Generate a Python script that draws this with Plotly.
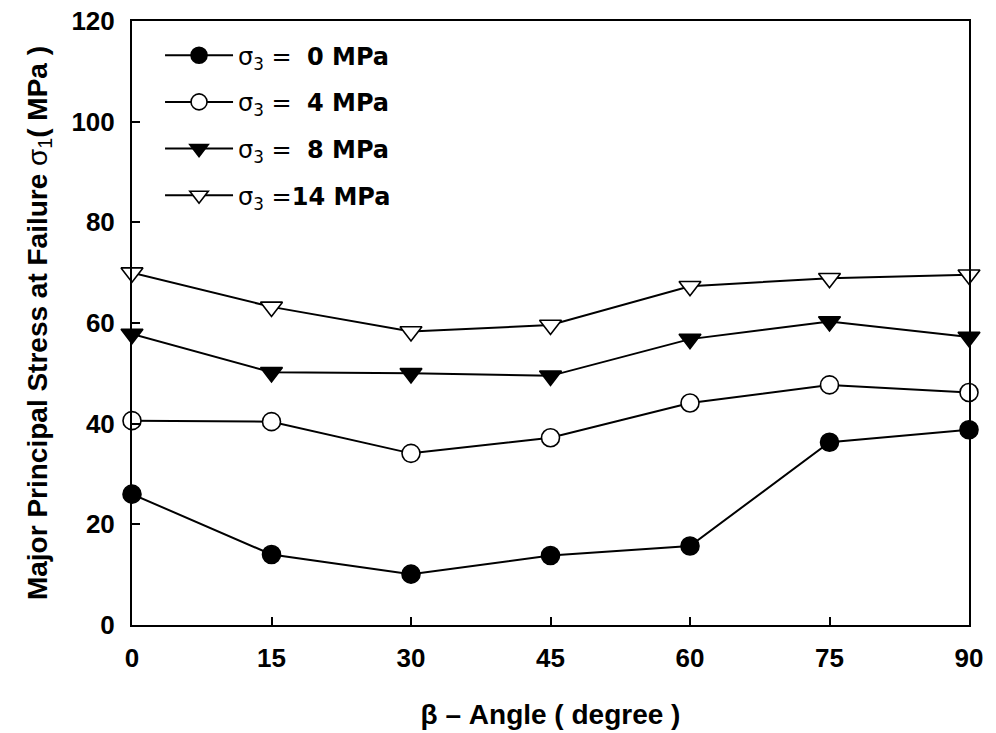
import plotly.graph_objects as go

# Inclination angle beta (degrees)
angles = [0, 15, 30, 45, 60, 75, 90]

# Major principal stress at failure (MPa) for each confining pressure
s3_0 = [26.0, 14.0, 10.1, 13.8, 15.7, 36.3, 38.8]
s3_4 = [40.6, 40.4, 34.1, 37.2, 44.1, 47.7, 46.2]
s3_8 = [57.8, 50.2, 50.0, 49.5, 56.8, 60.3, 57.2]
s3_14 = [70.0, 63.2, 58.3, 59.6, 67.3, 68.9, 69.6]

series_names = [
    "σ<sub>3</sub> =\u00a0 <b>0 MPa</b>",
    "σ<sub>3</sub> =\u00a0 <b>4 MPa</b>",
    "σ<sub>3</sub> =\u00a0 <b>8 MPa</b>",
    "σ<sub>3</sub> =<b>14 MPa</b>",
]
x_ticks = [0, 15, 30, 45, 60, 75, 90]
y_ticks = [0, 20, 40, 60, 80, 100, 120]

styles = [
    dict(symbol="circle", color="black"),
    dict(symbol="circle", color="white"),
    dict(symbol="triangle-down", color="black"),
    dict(symbol="triangle-down", color="white"),
]

fig = go.Figure()
for i, (vals, name, st) in enumerate(zip([s3_0, s3_4, s3_8, s3_14], series_names, styles)):
    fig.add_trace(go.Scatter(
        x=angles, y=vals, name=name, mode="lines+markers",
        legendgroup=f"g{i}",
        line=dict(color="black", width=2),
        marker=dict(symbol=st["symbol"], size=18 if "circle" in st["symbol"] else 19,
                    color=st["color"], line=dict(color="black", width=1.6)),
        cliponaxis=False,
    ))

font_family = "Liberation Sans, Arial, sans-serif"
wide_family = "DejaVu Sans, Liberation Sans, sans-serif"

fig.update_layout(
    width=996, height=733,
    margin=dict(l=132, r=27, t=21, b=108),
    paper_bgcolor="white", plot_bgcolor="white",
    font=dict(family=font_family, color="black", size=20),
    showlegend=True,
    legend=dict(
        x=0.0335, y=0.98, xanchor="left", yanchor="top",
        bgcolor="rgba(0,0,0,0)", tracegroupgap=12.5,
        font=dict(size=24, family=wide_family),
        itemwidth=68,
    ),
    xaxis=dict(
        range=[0, 90], tickvals=x_ticks, ticktext=[str(v) for v in x_ticks],
        automargin=False,
        showgrid=False, zeroline=False, showline=True, linecolor="black", linewidth=2,
        mirror=True, ticks="inside", ticklen=8, tickwidth=1.5, tickcolor="black",
        ticklabelstandoff=9,
        tickfont=dict(size=26, family=font_family, weight="bold"),
        title=dict(text="<b>β – Angle ( degree )</b>", font=dict(size=28), standoff=32),
    ),
    yaxis=dict(
        range=[0, 120], tickvals=y_ticks, ticktext=[str(v) for v in y_ticks],
        automargin=False,
        showgrid=False, zeroline=False, showline=True, linecolor="black", linewidth=2,
        mirror=True, ticks="inside", ticklen=8, tickwidth=1.5, tickcolor="black",
        ticklabelstandoff=10,
        tickfont=dict(size=26, family=font_family, weight="bold"),
        title=dict(text="<b>Major Principal Stress at Failure </b>σ<sub>1</sub><b>( MPa )</b>",
                   font=dict(size=28), standoff=16),
    ),
)

fig.write_html("out.html")
